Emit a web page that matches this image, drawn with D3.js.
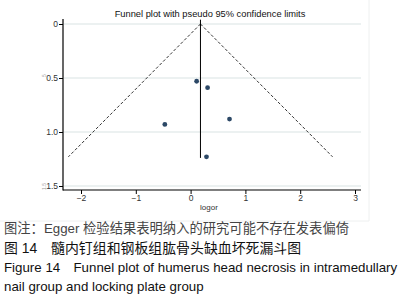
<!DOCTYPE html>
<html>
<head>
<meta charset="utf-8">
<script src="https://cdn.jsdelivr.net/npm/d3@7"></script>
<style>
  body { margin: 0; background: #fff; }
  svg text { font-family: "Liberation Sans", Arial, sans-serif; }
  .cap { font-family: "Liberation Sans", "Noto Sans CJK SC", sans-serif; }
</style>
</head>
<body>
<svg id="chart" width="405" height="302"></svg>
<script>
// Study estimates (log odds ratio) and their standard errors
const logor = [0.11, 0.31, -0.47, 0.71, 0.29];
const se = [0.53, 0.59, 0.93, 0.88, 1.23];
const pooled = 0.18;
const se_max = 1.23;
const x_ticks = [-2, -1, 0, 1, 2, 3];
const y_ticks = [0, 0.5, 1.0, 1.5];
const y_tick_labels = ["0", "0.5", "1.0", "1.5"];
const captions = [
  "图注：Egger 检验结果表明纳入的研究可能不存在发表偏倚",
  "图 14　髓内钉组和钢板组肱骨头缺血坏死漏斗图",
  "Figure 14　Funnel plot of humerus head necrosis in intramedullary",
  "nail group and locking plate group"
];

const svg = d3.select("#chart");

// Scales (y reversed: se 0 at top)
const x = d3.scaleLinear().domain([-2, 3]).range([81, 355]);
const y = d3.scaleLinear().domain([0, 1.5]).range([24, 186]);

// Light frame of the chart image
svg.append("path")
  .attr("d", "M369,0 V221 H0")
  .attr("fill", "none")
  .attr("stroke", "#eef0f0")
  .attr("stroke-width", 1);

// Gridlines
svg.selectAll(".grid")
  .data(y_ticks)
  .enter()
  .append("line")
  .attr("x1", 64).attr("x2", 361)
  .attr("y1", d => y(d)).attr("y2", d => y(d))
  .attr("stroke", "#e6eded")
  .attr("stroke-width", 1.6);

// Title
svg.append("text")
  .attr("x", 210).attr("y", 17)
  .attr("text-anchor", "middle")
  .attr("font-size", 9.3)
  .attr("fill", "#111")
  .text("Funnel plot with pseudo 95% confidence limits");

// Pseudo 95% confidence limits
const funnel_left = [[pooled, 0], [pooled - 1.96 * se_max, se_max]];
const funnel_right = [[pooled, 0], [pooled + 1.96 * se_max, se_max]];
const line = d3.line().x(d => x(d[0])).y(d => y(d[1]));
[funnel_left, funnel_right].forEach(f => {
  svg.append("path")
    .attr("d", line(f))
    .attr("fill", "none")
    .attr("stroke", "#333")
    .attr("stroke-width", 1)
    .attr("stroke-dasharray", "3,2");
});

// Pooled estimate line
svg.append("line")
  .attr("x1", x(pooled)).attr("x2", x(pooled))
  .attr("y1", y(-0.04)).attr("y2", y(se_max + 0.01))
  .attr("stroke", "#000")
  .attr("stroke-width", 1);

// Study points
svg.selectAll("circle")
  .data(logor)
  .enter()
  .append("circle")
  .attr("cx", d => x(d))
  .attr("cy", (d, i) => y(se[i]))
  .attr("r", 2.4)
  .attr("fill", "#2c4866");

// Y axis
const y_axis = d3.axisLeft(y)
  .tickValues(y_ticks)
  .tickFormat((d, i) => y_tick_labels[i])
  .tickSize(4)
  .tickSizeOuter(0);
const gy = svg.append("g")
  .attr("transform", "translate(63,0)")
  .call(y_axis);
gy.select(".domain").remove();
gy.append("line")
  .attr("x1", 0).attr("x2", 0).attr("y1", 19).attr("y2", 190.5)
  .attr("stroke", "#000").attr("stroke-width", 1.2);
gy.selectAll("text").attr("font-size", 8.5).attr("fill", "#333").attr("x", -5)
  .style("font-family", "Liberation Sans, Arial, sans-serif");

// Faint fragments of the clipped y-axis title
svg.append("text")
  .attr("transform", `translate(46,${y(0.5) - 1}) rotate(-90)`)
  .attr("font-size", 5)
  .attr("fill", "#999")
  .text("5");
svg.append("text")
  .attr("transform", `translate(46,${y(1.5) + 4}) rotate(-90)`)
  .attr("font-size", 5)
  .attr("fill", "#999")
  .text("1.5");

// X axis
const x_axis = d3.axisBottom(x)
  .tickValues(x_ticks)
  .tickFormat(d3.format("d"))
  .tickSize(4)
  .tickSizeOuter(0);
const gx = svg.append("g")
  .attr("transform", "translate(0,190)")
  .call(x_axis);
gx.select(".domain").remove();
gx.append("line")
  .attr("x1", 63).attr("x2", 361).attr("y1", 0).attr("y2", 0)
  .attr("stroke", "#000").attr("stroke-width", 1.2);
gx.selectAll("text").attr("font-size", 8.5).attr("fill", "#333").attr("y", 5)
  .style("font-family", "Liberation Sans, Arial, sans-serif");

svg.append("text")
  .attr("x", 209).attr("y", 210)
  .attr("text-anchor", "middle")
  .attr("font-size", 8)
  .attr("fill", "#333")
  .text("logor");

// Captions below the figure
const cap_y = [233, 252.5, 272, 291];
const cap_size = [13.3, 13.9, 13.3, 13.3];
const cap_color = ["#444", "#111", "#111", "#111"];
svg.selectAll(".cap")
  .data(captions)
  .enter()
  .append("text")
  .attr("class", "cap")
  .attr("x", 4)
  .attr("y", (d, i) => cap_y[i])
  .attr("font-size", (d, i) => cap_size[i])
  .attr("fill", (d, i) => cap_color[i])
  .text(d => d);
</script>
</body>
</html>
